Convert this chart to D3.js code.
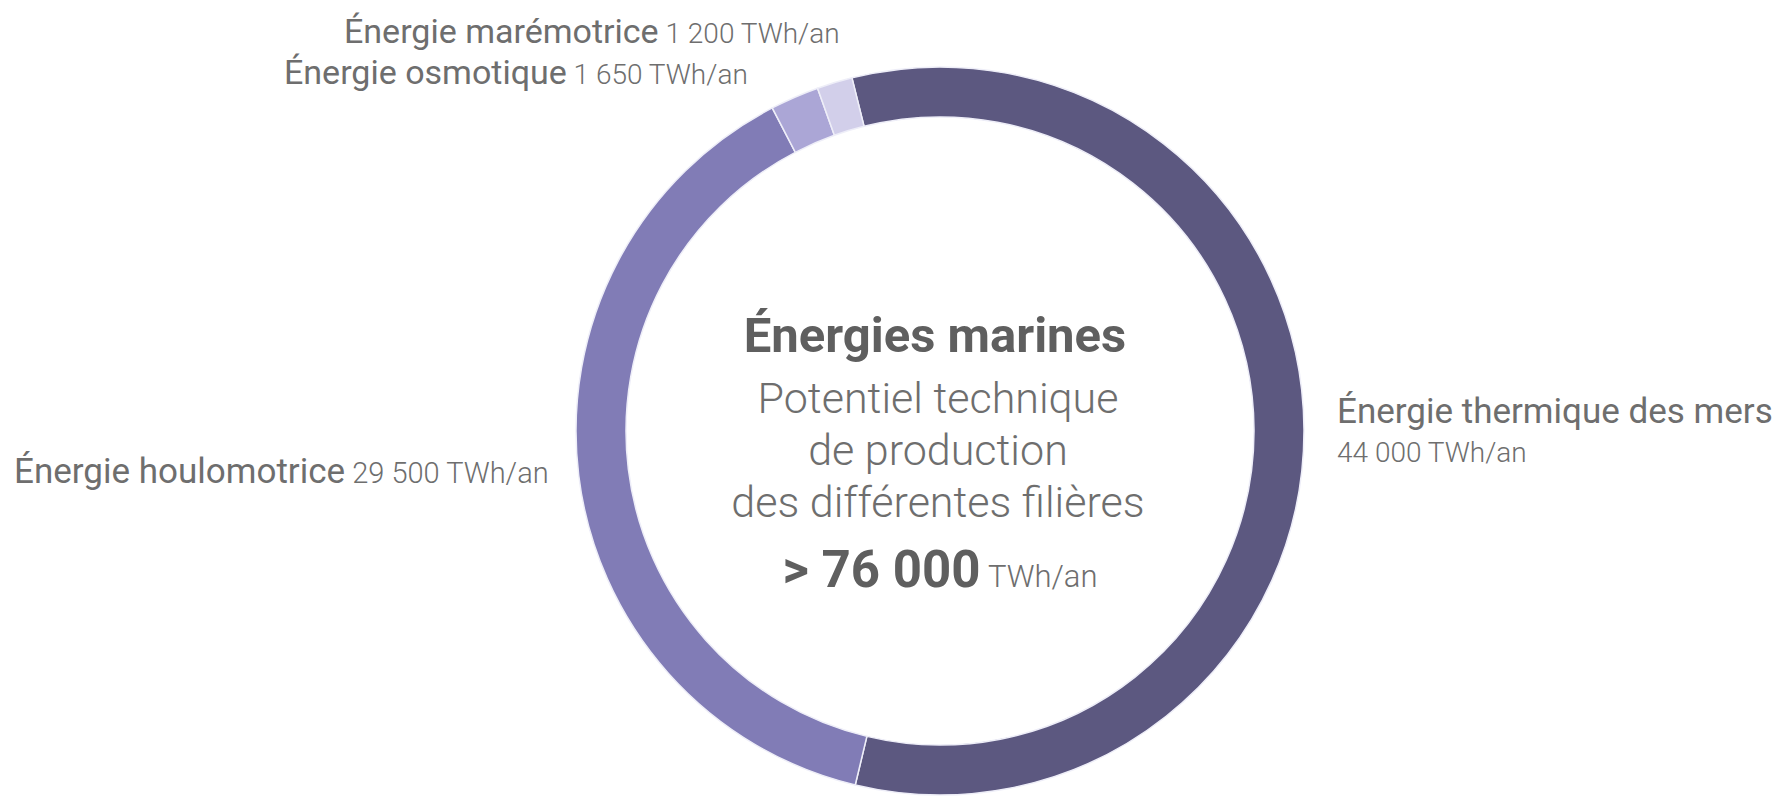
<!DOCTYPE html>
<html lang="fr">
<head>
<meta charset="utf-8">
<script src="https://cdn.jsdelivr.net/npm/d3@7"></script>
<style>
  html, body { margin: 0; padding: 0; background: #ffffff; }
  svg { display: block; font-family: Roboto, "Noto Sans", sans-serif; }
</style>
</head>
<body>
<svg id="chart" width="1789" height="798"></svg>
<script>
// Potentiel technique des énergies marines (TWh/an)
const sources = ["Énergie thermique des mers", "Énergie houlomotrice", "Énergie osmotique", "Énergie marémotrice"];
const valeurs = [44000, 29500, 1650, 1200];
const valeursTexte = ["44 000 TWh/an", "29 500 TWh/an", "1 650 TWh/an", "1 200 TWh/an"];
const couleurs = ["#5c5880", "#817cb6", "#aba6d6", "#d2cfea"];
const totalTexte = "> 76 000";
const unite = "TWh/an";
const titre = "Énergies marines";
const sousTitre = ["Potentiel technique", "de production", "des différentes filières"];

const svg = d3.select("#chart");
const cx = 940, cy = 431;
const rOuter = 364, rInner = 314;

const color = d3.scaleOrdinal().domain(sources).range(couleurs);

// L'anneau commence un peu avant le haut, côté gauche
const pie = d3.pie()
  .sort(null)
  .value(d => d.value)
  .startAngle(-14 * Math.PI / 180)
  .endAngle((360 - 14) * Math.PI / 180);

const arc = d3.arc().innerRadius(rInner).outerRadius(rOuter);

const data = sources.map((s, i) => ({ name: s, value: valeurs[i], label: valeursTexte[i] }));

const g = svg.append("g").attr("transform", `translate(${cx},${cy})`);
g.selectAll("path.slice")
  .data(pie(data))
  .join("path")
  .attr("class", "slice")
  .attr("d", arc)
  .attr("fill", d => color(d.data.name))
  .attr("stroke", "#eeeef8")
  .attr("stroke-width", 1.5);

// Étiquettes extérieures
const gris = "#6e6e6e";
function label(x, y, d, sizeName, sizeValue) {
  const t = svg.append("text").attr("x", x).attr("y", y).attr("fill", gris);
  t.append("tspan").attr("font-size", sizeName).attr("font-weight", 400).text(d.name);
  t.append("tspan").attr("font-size", sizeValue).attr("font-weight", 300).text("\u00a0" + d.label);
}
label(344, 43, data[3], 34, 28);
label(284, 84, data[2], 34, 28);
label(14, 483, data[1], 35, 29);

svg.append("text").attr("x", 1337).attr("y", 423).attr("fill", gris)
  .attr("font-size", 35).attr("font-weight", 400).text(data[0].name);
svg.append("text").attr("x", 1337).attr("y", 462).attr("fill", gris)
  .attr("font-size", 28).attr("font-weight", 300).text(data[0].label);

// Texte central
const centre = svg.append("g").attr("text-anchor", "middle");
centre.append("text").attr("x", 935).attr("y", 352).attr("fill", "#5f5f5f")
  .attr("font-size", 49).attr("font-weight", 700).text(titre);
sousTitre.forEach((s, i) => {
  centre.append("text").attr("x", 938).attr("y", 413 + i * 52).attr("fill", gris)
    .attr("font-size", 43).attr("font-weight", 300).text(s);
});
const tot = centre.append("text").attr("x", 940).attr("y", 587).attr("fill", "#5f5f5f");
tot.append("tspan").attr("font-size", 51).attr("font-weight", 700).text(totalTexte);
tot.append("tspan").attr("font-size", 31).attr("font-weight", 300).attr("fill", gris).text("\u00a0" + unite);
</script>
</body>
</html>
